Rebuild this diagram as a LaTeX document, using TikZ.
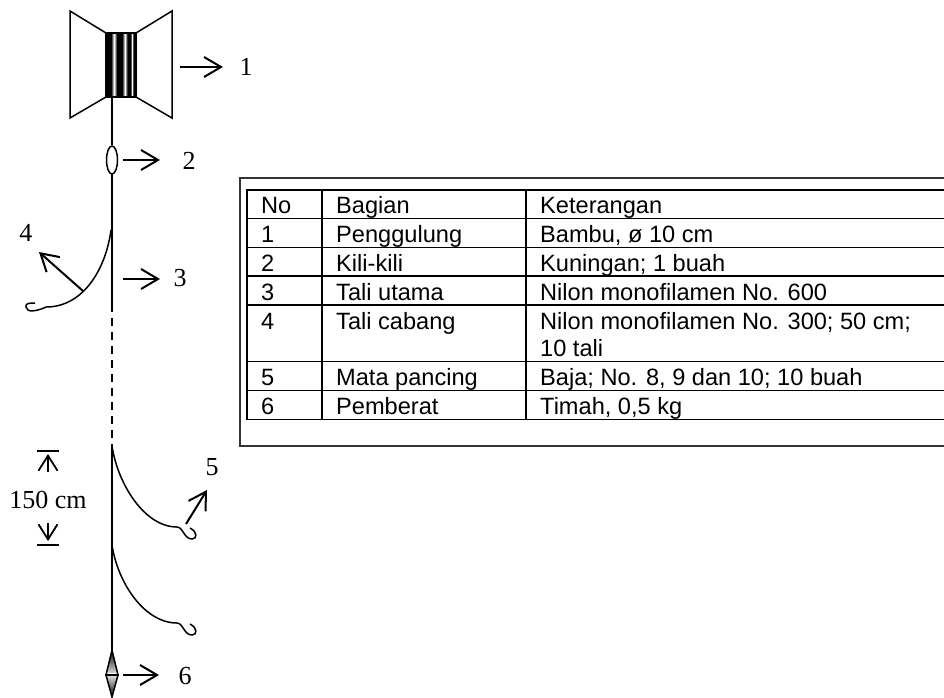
\documentclass[tikz,border=0pt]{standalone}
\usepackage{fontspec}
\setmainfont{Liberation Serif}
\newfontfamily\tablefont{Liberation Sans}
\usetikzlibrary{arrows.meta,shapes.geometric}
\tikzset{
  ptr/.style={line width=2pt,-{Straight Barb[length=17pt,width=20pt,line width=2pt]}},
  markptr/.style={line width=1.8pt,-{Straight Barb[length=15pt,width=19pt,line width=1.8pt]}},
  num/.style={font=\fontsize{26}{26}\selectfont,inner sep=0},
  cell/.style={anchor=base west,font=\tablefont\fontsize{23.6}{24}\selectfont,inner sep=0},
  rig/.style={line width=1.5pt},
  grid/.style={line width=1.6pt}
}
\begin{document}
\begin{tikzpicture}[x=1pt,y=-1pt]
\useasboundingbox (0,0) rectangle (944,697);
% reel
\draw[rig] (106,33) -- (70,11) -- (70,118) -- (106,97);
\draw[rig] (136,33) -- (172,11) -- (172,118) -- (136,97);
\fill (106,33) rectangle (111,97);
\shade[left color=black,right color=white] (111,33) rectangle (114,97);
\shade[left color=white,right color=black] (114,33) rectangle (117,97);
\fill (117,33) rectangle (122,97);
\shade[left color=black,right color=white] (122,33) rectangle (125,97);
\shade[left color=white,right color=black] (125,33) rectangle (127.5,97);
\fill (127.5,33) rectangle (130.5,97);
\shade[left color=black,right color=white] (130.5,33) rectangle (132,97);
\shade[left color=white,right color=black] (132,33) rectangle (133.5,97);
\fill (133.5,33) rectangle (136,97);
\draw[rig] (106,33) rectangle (136,97);
% main line
\node[draw,rig,ellipse,minimum width=11pt,minimum height=28pt,inner sep=0] (swivel) at (112,160) {};
\coordinate (reelbot) at (112,97);
\coordinate (linetop) at (112,174);
\coordinate (lineend) at (112,312);
\coordinate (dashend) at (112,444);
\coordinate (sinktop) at (112,650);
\draw[rig] (reelbot) -- (swivel.north);
\draw[line width=1.7pt] (swivel.south) -- (linetop) -- (lineend);
\draw[rig,dash pattern=on 8pt off 6pt,dash phase=8pt] (lineend) -- (dashend);
\draw[line width=1.3pt] (dashend) -- (sinktop);
% branch lines
\draw[rig] (111,230) .. controls (106,268) and (84,307) .. (46,307) -- (44,308) .. controls (36,311) and (27,313) .. (26,307) .. controls (25,303) and (30,303) .. (35,303);
\draw[rig] (112,446) .. controls (118,485) and (145,527) .. (177,527) .. controls (183,527) and (184,539) .. (192,539) .. controls (197,539) and (198,532) .. (190,528);
\draw[rig] (112,545) .. controls (118,584) and (145,623) .. (177,623) .. controls (183,623) and (184,635) .. (192,635) .. controls (197,635) and (198,628) .. (190,624);
% sinker
\shade[top color=black,bottom color=white!85!black] (112,650) -- (118,673) -- (106,673) -- cycle;
\shade[top color=white!85!black,bottom color=black] (106,676) -- (118,676) -- (112,697) -- cycle;
\draw[rig] (112,650) -- (118,675) -- (112,697) -- (106,675) -- cycle;
\draw[line width=1.8pt] (105,675) -- (119,675);
% labels and pointers
\node[num] (n1) at (246,67) {1};
\node[num] (n2) at (189,161) {2};
\node[num] (n3) at (180,278) {3};
\node[num] (n4) at (26,233) {4};
\node[num] (n5) at (212,467) {5};
\node[num] (n6) at (185,676) {6};
\coordinate (p1) at (180,67);
\coordinate (q1) at (223,67);
\coordinate (p2) at (123,160);
\coordinate (q2) at (160,160);
\coordinate (p3) at (123,279);
\coordinate (q3) at (160,279);
\coordinate (p4) at (83,291);
\coordinate (q4) at (39,252);
\coordinate (p5) at (186,524);
\coordinate (q5) at (207,490);
\coordinate (p6) at (123,675);
\coordinate (q6) at (159,675);
\draw[ptr] (p1) -- (q1);
\draw[ptr] (p2) -- (q2);
\draw[ptr] (p3) -- (q3);
\draw[ptr] (p4) -- (q4);
\draw[ptr] (p5) -- (q5);
\draw[ptr] (p6) -- (q6);
% 150 cm mark
\node[num] (span) at (48,500) {150 cm};
\coordinate (up) at (48,454);
\coordinate (upfoot) at (48,472);
\coordinate (down) at (48,541);
\coordinate (downfoot) at (48,523);
\draw[markptr] (upfoot) -- (up);
\draw[markptr] (downfoot) -- (down);
\draw[rig] (37,451) -- (59,451);
\draw[rig] (37,545) -- (59,545);
% table
\draw[line width=1.3pt,black!80] (240,178) rectangle (950,446);
\draw[grid] (247,190) rectangle (950,419.5);
\draw[grid] (322,190) -- (322,419.5);
\draw[grid] (526,190) -- (526,419.5);
\draw[grid] (247,218.5) -- (950,218.5);
\draw[grid] (247,247.5) -- (950,247.5);
\draw[grid] (247,276) -- (950,276);
\draw[grid] (247,305) -- (950,305);
\draw[grid] (247,361.5) -- (950,361.5);
\draw[grid] (247,390.5) -- (950,390.5);
\node[cell] (no) at (261,213) {No};
\node[cell] (bagian) at (336,213) {Bagian};
\node[cell] (ket) at (540,213) {Keterangan};
\node[cell] (no1) at (261,242) {1};
\node[cell] (bag1) at (336,242) {Penggulung};
\node[cell] (ket1) at (540,242) {Bambu, ø 10 cm};
\node[cell] (no2) at (261,271) {2};
\node[cell] (bag2) at (336,271) {Kili-kili};
\node[cell] (ket2) at (540,271) {Kuningan; 1 buah};
\node[cell] (no3) at (261,300) {3};
\node[cell] (bag3) at (336,300) {Tali utama};
\node[cell] (ket3) at (540,300) {Nilon monofilamen No. 600};
\node[cell] (no4) at (261,329) {4};
\node[cell] (bag4) at (336,329) {Tali cabang};
\node[cell] (ket4) at (540,329) {Nilon monofilamen No. 300; 50 cm;};
\node[cell] (ket4b) at (540,356) {10 tali};
\node[cell] (no5) at (261,385) {5};
\node[cell] (bag5) at (336,385) {Mata pancing};
\node[cell] (ket5) at (540,385) {Baja; No. 8, 9 dan 10; 10 buah};
\node[cell] (no6) at (261,414) {6};
\node[cell] (bag6) at (336,414) {Pemberat};
\node[cell] (ket6) at (540,414) {Timah, 0,5 kg};
\end{tikzpicture}
\end{document}
